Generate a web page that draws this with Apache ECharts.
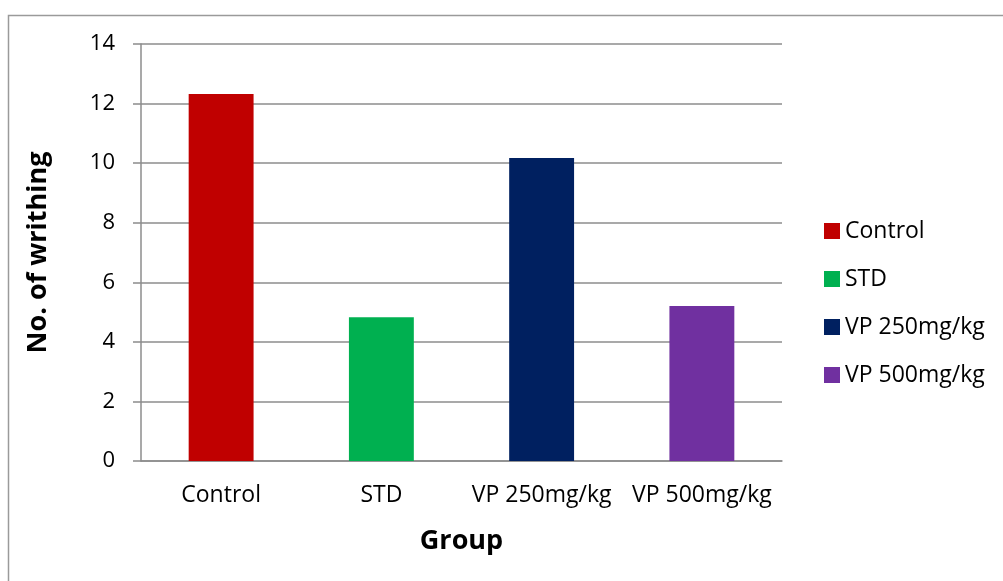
<!DOCTYPE html>
<html>
<head>
<meta charset="utf-8">
<script src="https://cdn.jsdelivr.net/npm/echarts@6/dist/echarts.min.js"></script>
<style>
  html, body { margin: 0; padding: 0; background: #fff; }
  #chart { width: 1003px; height: 581px; }
</style>
</head>
<body>
<div id="chart"></div>
<script>
// Writhing counts per treatment group
const groups = ['Control', 'STD', 'VP 250mg/kg', 'VP 500mg/kg'];
const writhing = [12.32, 4.83, 10.17, 5.2];
const groupColors = ['#C00000', '#00B050', '#002060', '#7030A0'];
const yTicks = { min: 0, max: 14, interval: 2 };

const FONT = 'Open Sans';

const chart = echarts.init(document.getElementById('chart'), null, { renderer: 'canvas' });

// one series per group so each gets its own legend entry; stacking keeps them centred
const series = groups.map((name, i) => ({
  name: name,
  type: 'bar',
  stack: 'g',
  barWidth: '40.5%',
  itemStyle: { color: groupColors[i] },
  data: groups.map((_, j) => (j === i ? writhing[i] : '-'))
}));

chart.setOption({
  animation: false,
  backgroundColor: '#ffffff',
  graphic: [{
    type: 'rect',
    shape: { x: 8.5, y: 15.5, width: 1000, height: 600 },
    style: { fill: 'none', stroke: '#9a9a9a', lineWidth: 1.5 },
    silent: true
  }],
  grid: { left: 141, right: 221, top: 44, bottom: 120, containLabel: false },
  legend: {
    orient: 'vertical',
    left: 824,
    top: 219,
    padding: 0,
    itemWidth: 16,
    itemHeight: 16,
    itemGap: 24,
    icon: 'rect',
    textStyle: { fontFamily: FONT, fontSize: 23, lineHeight: 24, color: '#000', padding: [0, 0, 0, 0] },
    data: groups
  },
  xAxis: {
    type: 'category',
    data: groups,
    name: 'Group',
    nameLocation: 'middle',
    nameGap: 67,
    nameTextStyle: { fontFamily: FONT, fontSize: 27, fontWeight: 'bold', color: '#000' },
    axisLine: { lineStyle: { color: '#8c8c8c', width: 1.5 } },
    axisTick: { show: false },
    axisLabel: { fontFamily: FONT, fontSize: 23, color: '#000', margin: 23, interval: 0 }
  },
  yAxis: {
    type: 'value',
    min: yTicks.min,
    max: yTicks.max,
    interval: yTicks.interval,
    name: 'No. of writhing',
    nameLocation: 'middle',
    nameGap: 89,
    nameTextStyle: { fontFamily: FONT, fontSize: 27, fontWeight: 'bold', color: '#000' },
    axisLine: { show: true, lineStyle: { color: '#8c8c8c', width: 1.5 } },
    axisTick: { show: true, length: 8, lineStyle: { color: '#8c8c8c', width: 1.5 } },
    splitLine: { lineStyle: { color: '#8c8c8c', width: 1.5 } },
    axisLabel: { fontFamily: FONT, fontSize: 22, color: '#000', margin: 26 }
  },
  series: series
});
</script>
</body>
</html>
